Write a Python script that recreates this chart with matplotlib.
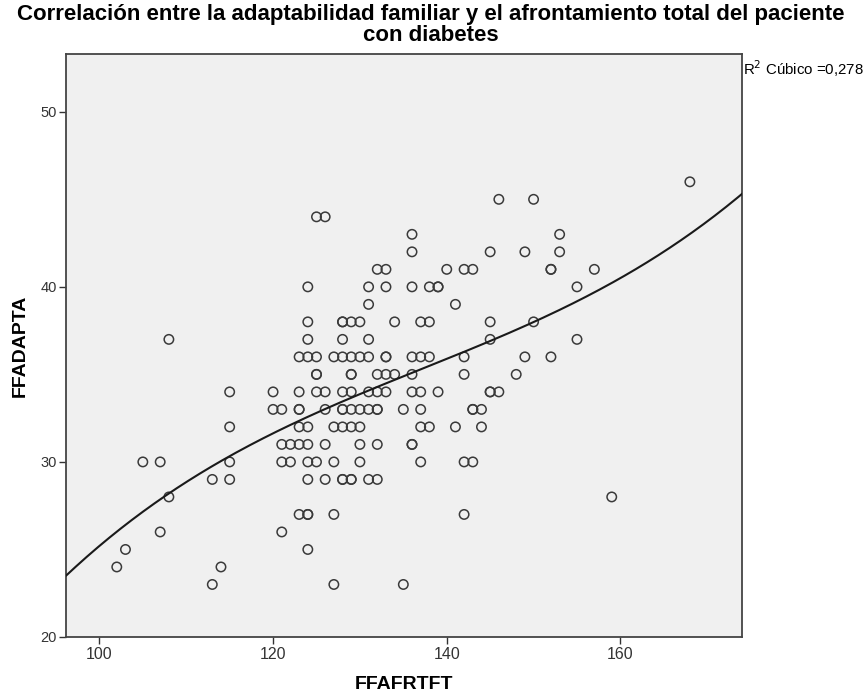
import numpy as np
import matplotlib
matplotlib.use("Agg")
import matplotlib.pyplot as plt

# FFAFRTFT (x) , FFADAPTA (y) pairs
afrontamiento = [
    102, 103, 105, 107, 107, 108, 108, 113, 113, 114, 115, 115, 115, 115,
    125, 126, 146, 150, 168, 136, 153, 136, 145, 149, 153,
    132, 133, 140, 142, 143, 152, 152, 157,
    124, 131, 133, 136, 138, 139, 139, 155,
    131, 141,
    124, 128, 128, 129, 130, 134, 137, 138, 145, 150,
    124, 128, 131, 145, 155,
    123, 124, 125, 127, 128, 129, 130, 131, 133, 133, 136, 137, 138, 142, 149, 152,
    125, 125, 129, 129, 132, 133, 134, 136, 142, 148,
    120, 123, 125, 126, 128, 129, 131, 132, 133, 136, 137, 139, 145, 145, 146,
    120, 121, 123, 123, 126, 128, 128, 129, 130, 131, 132, 132, 135, 137, 143, 143, 144,
    123, 124, 127, 128, 129, 130, 137, 138, 141, 144,
    121, 122, 123, 124, 126, 130, 132, 136, 136,
    121, 122, 124, 125, 127, 130, 137, 142, 143,
    124, 126, 128, 128, 129, 129, 131, 132,
    159,
    123, 124, 124, 127, 142,
    121, 124, 127, 135,
]
adaptabilidad = [
    24, 25, 30, 30, 26, 37, 28, 23, 29, 24, 34, 32, 30, 29,
    44, 44, 45, 45, 46, 43, 43, 42, 42, 42, 42,
    41, 41, 41, 41, 41, 41, 41, 41,
    40, 40, 40, 40, 40, 40, 40, 40,
    39, 39,
    38, 38, 38, 38, 38, 38, 38, 38, 38, 38,
    37, 37, 37, 37, 37,
    36, 36, 36, 36, 36, 36, 36, 36, 36, 36, 36, 36, 36, 36, 36, 36,
    35, 35, 35, 35, 35, 35, 35, 35, 35, 35,
    34, 34, 34, 34, 34, 34, 34, 34, 34, 34, 34, 34, 34, 34, 34,
    33, 33, 33, 33, 33, 33, 33, 33, 33, 33, 33, 33, 33, 33, 33, 33, 33,
    32, 32, 32, 32, 32, 32, 32, 32, 32, 32,
    31, 31, 31, 31, 31, 31, 31, 31, 31,
    30, 30, 30, 30, 30, 30, 30, 30, 30,
    29, 29, 29, 29, 29, 29, 29, 29,
    28,
    27, 27, 27, 27, 27,
    26, 25, 23, 23,
]

x_ticks = [100, 120, 140, 160]
y_ticks = [20, 30, 40, 50]
title = "Correlación entre la adaptabilidad familiar y el afrontamiento total del paciente\ncon diabetes"
fit_label = "R$^2$ Cúbico =0,278"

x = np.array(afrontamiento, dtype=float)
y = np.array(adaptabilidad, dtype=float)

fig = plt.figure(figsize=(8.67, 6.97), dpi=100)
fig.patch.set_facecolor("white")
ax = fig.add_axes([0.0766, 0.0861, 0.8558 - 0.0766, 0.9225 - 0.0861])
ax.set_facecolor("#f0f0f0")

ax.scatter(x, y, s=46, facecolors="none", edgecolors="#3a3a3a", linewidths=1.1, zorder=3)

xmin, xmax = 96.2, 174.0
coef = np.polyfit(x, y, 3)
xs = np.linspace(xmin, xmax, 300)
ax.plot(xs, np.polyval(coef, xs), color="#1a1a1a", lw=1.5, zorder=4)

ax.set_xlim(xmin, xmax)
ax.set_ylim(20, 53.3)
ax.set_xticks(x_ticks)
ax.set_yticks(y_ticks)

narrow = ["Liberation Sans Narrow", "Liberation Sans", "DejaVu Sans"]
arial = ["Liberation Sans", "DejaVu Sans"]
for lab in ax.get_xticklabels():
    lab.set_family(narrow)
    lab.set_fontsize(11.5)
for lab in ax.get_yticklabels():
    lab.set_family(arial)
    lab.set_fontsize(10.5)
ax.tick_params(direction="out", length=5, width=1, colors="#333333", pad=2)

for sp in ax.spines.values():
    sp.set_color("#444444")
    sp.set_linewidth(1.3)

ax.set_xlabel("FFAFRTFT", fontsize=14, fontweight="bold", family=narrow, labelpad=10)
ax.set_ylabel("FFADAPTA", fontsize=14, fontweight="bold", family=narrow, labelpad=8)

fig.text(0.497, 0.994, title, ha="center", va="top", fontsize=16, fontweight="bold",
         family=arial, linespacing=0.98)
fig.text(0.8565, 0.902, fit_label, ha="left", va="center", fontsize=10.8, family=arial)

fig.savefig("out.png", dpi=100)
